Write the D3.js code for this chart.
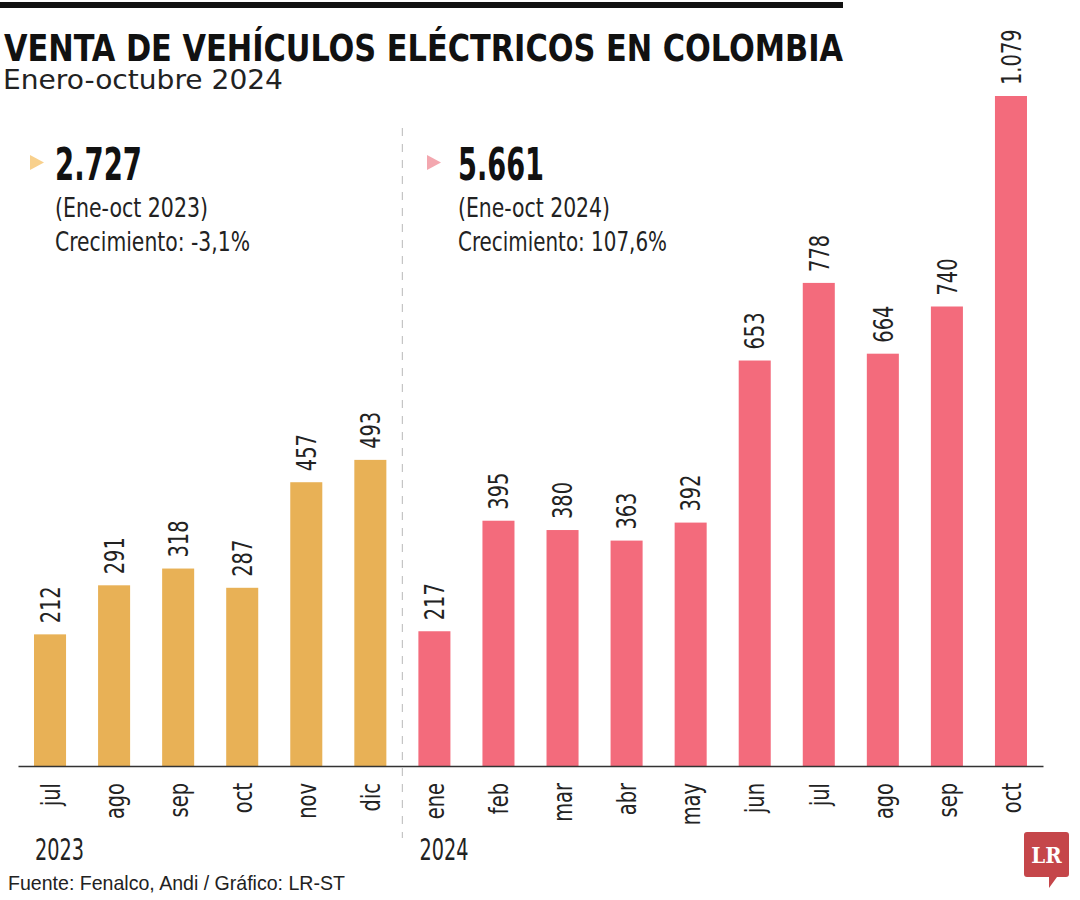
<!DOCTYPE html>
<html><head><meta charset="utf-8">
<script src="https://cdn.jsdelivr.net/npm/d3@7"></script>
<style>
html,body{margin:0;padding:0;background:#fff;}
svg text{font-family:"Liberation Sans Narrow","DejaVu Sans Condensed","DejaVu Sans",sans-serif;font-stretch:condensed;}
</style></head>
<body>
<svg id="c" width="1080" height="900"></svg>
<script>
const months = ["jul","ago","sep","oct","nov","dic","ene","feb","mar","abr","may","jun","jul","ago","sep","oct"];
const values2023 = [212,291,318,287,457,493];
const values2024 = [217,395,380,363,392,653,778,664,740,1079];
const yearLabels = ["2023","2024"];
const totals = ["2.727","5.661"];
const periods = ["(Ene-oct 2023)","(Ene-oct 2024)"];
const growth = ["Crecimiento: -3,1%","Crecimiento: 107,6%"];
const title = "VENTA DE VEHÍCULOS ELÉCTRICOS EN COLOMBIA";
const subtitle = "Enero-octubre 2024";
const source = "Fuente: Fenalco, Andi / Gráfico: LR-ST";

const C2023 = "#E8B156", C2024 = "#F36B7C";

const data = months.map((m,i)=>({
  i, m,
  year: i < values2023.length ? 0 : 1,
  v: i < values2023.length ? values2023[i] : values2024[i-values2023.length]
}));

const svg = d3.select("#c");
const baseY = 766;
const x = d3.scaleBand().domain(d3.range(months.length)).range([18,1043]).paddingInner(0.5).paddingOuter(0.25);
const y = d3.scaleLinear().domain([0,1079]).range([baseY,96]);
const fmt = v => d3.format(",")(v).replace(/,/g,".");
const SQ = 0.8; // horizontal squeeze to mimic condensed face

// top rule
svg.append("rect").attr("x",0).attr("y",2).attr("width",843).attr("height",6).attr("fill","#111");

// title
svg.append("text").attr("x",4).attr("y",61).attr("font-size",37).attr("font-weight","bold")
  .attr("fill","#111").attr("textLength",839).attr("lengthAdjust","spacingAndGlyphs").text(title);
svg.append("text").attr("x",3).attr("y",89).attr("font-size",27).attr("fill","#222")
  .attr("textLength",280).attr("lengthAdjust","spacingAndGlyphs").text(subtitle);

// divider
const divX = x(5) + x.bandwidth() + (x(6) - x(5) - x.bandwidth())/2;
svg.append("line").attr("x1",divX).attr("x2",divX).attr("y1",128).attr("y2",838)
  .attr("stroke","#c4c4c4").attr("stroke-width",1.2).attr("stroke-dasharray","8,8");

// bars
svg.selectAll("rect.bar").data(data).join("rect").attr("class","bar")
  .attr("x",d=>x(d.i)).attr("width",x.bandwidth())
  .attr("y",d=>y(d.v)).attr("height",d=>baseY - y(d.v))
  .attr("fill",d=>d.year===0?C2023:C2024);

// value labels
svg.selectAll("text.val").data(data).join("text").attr("class","val")
  .attr("transform",d=>`translate(${x(d.i)+x.bandwidth()/2},${y(d.v)-11}) rotate(-90) scale(${SQ},1)`)
  .attr("dy","0.36em").attr("font-size",27).attr("fill","#222").text(d=>fmt(d.v));

// axis
const ax = svg.append("g").attr("transform",`translate(0,${baseY})`)
  .call(d3.axisBottom(x).tickSize(0).tickSizeOuter(0).tickFormat(i=>months[i]));
ax.select(".domain").attr("stroke","#333").attr("stroke-width",1.5);
ax.selectAll(".tick text").attr("font-size",27).attr("fill","#222")
  .attr("transform",`translate(0,17) rotate(-90) scale(${SQ},1)`).attr("text-anchor","end")
  .attr("x",0).attr("y",0).attr("dy","0.36em");

// year labels
[0,6].forEach((idx,k)=>{
  svg.append("text").attr("x",x(idx)+1).attr("y",860).attr("font-size",30).attr("fill","#222")
    .attr("textLength",49).attr("lengthAdjust","spacingAndGlyphs").text(yearLabels[k]);
});

// summaries
const triX = [30,427], txtX = [55,458];
const triCol = ["#F8D08C","#F3A7AF"];
const wTot = [87,86], wPer = [153,152], wGr = [195,209];
triX.forEach((sx,k)=>{
  svg.append("path").attr("d",`M${sx},155 L${sx+14},162.5 L${sx},170 Z`).attr("fill",triCol[k]);
  svg.append("text").attr("x",txtX[k]).attr("y",180).attr("font-size",44).attr("font-weight","bold").attr("fill","#111")
    .attr("textLength",wTot[k]).attr("lengthAdjust","spacingAndGlyphs").text(totals[k]);
  svg.append("text").attr("x",txtX[k]).attr("y",217).attr("font-size",27).attr("fill","#222")
    .attr("textLength",wPer[k]).attr("lengthAdjust","spacingAndGlyphs").text(periods[k]);
  svg.append("text").attr("x",txtX[k]).attr("y",251).attr("font-size",27).attr("fill","#222")
    .attr("textLength",wGr[k]).attr("lengthAdjust","spacingAndGlyphs").text(growth[k]);
});

// source
svg.append("text").attr("x",8).attr("y",890).attr("font-size",21).attr("fill","#222")
  .style("font-family","'Liberation Sans','DejaVu Sans',sans-serif").style("font-stretch","normal")
  .attr("textLength",337).attr("lengthAdjust","spacingAndGlyphs").text(source);

// LR logo
const lg = svg.append("g").attr("transform","translate(1024,832)");
lg.append("path").attr("d","M3,0 H42 A3,3 0 0 1 45,3 V42 A3,3 0 0 1 42,45 H33 L25,56 L25,45 H3 A3,3 0 0 1 0,42 V3 A3,3 0 0 1 3,0 Z").attr("fill","#C5464A");
lg.append("text").attr("x",22.5).attr("y",31).attr("text-anchor","middle").attr("font-size",22).attr("font-weight","bold")
  .attr("fill","#fff").style("font-family","'DejaVu Serif','Liberation Serif',serif").style("font-stretch","condensed").text("LR");
</script>
</body></html>
